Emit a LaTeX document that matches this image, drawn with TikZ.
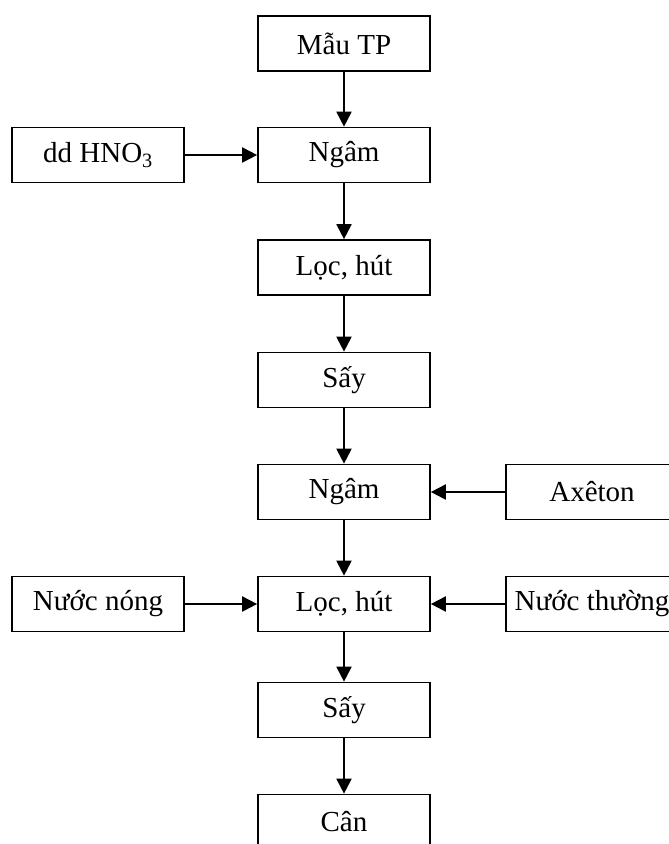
\documentclass[tikz,border=0pt]{standalone}
\usepackage{fontspec}
\setmainfont{Liberation Serif}
\usetikzlibrary{arrows.meta}

\tikzset{
  box/.style={draw, line width=1.7pt, minimum width=172pt, minimum height=55pt,
              inner sep=0pt, font=\fontsize{29}{31}\selectfont},
  flow/.style={-{Triangle[length=15pt, width=15pt]}, line width=2pt}
}

\begin{document}
\begin{tikzpicture}[x=1pt, y=-1pt]
  \useasboundingbox (0,0) rectangle (669,844);
  \clip (0,0) rectangle (669,844);
  % Main column
  \node[box] (mau)   at (344,43.5) {Mẫu TP};
  \node[box] (ngam1) at (344,155)  {Ngâm};
  \node[box] (loc1)  at (344,267.5) {Lọc, hút};
  \node[box] (say1)  at (344,380)  {Sấy};
  \node[box] (ngam2) at (344,492)  {Ngâm};
  \node[box] (loc2)  at (344,604)  {Lọc, hút};
  \node[box] (say2)  at (344,710)  {Sấy};
  \node[box] (can)   at (344,822)  {Cân};
  % Side inputs
  \node[box] (hno)   at (98,155)   {dd HNO\textsubscript{3}};
  \node[box] (nong)  at (98,604)   {Nước nóng};
  \node[box] (axe)   at (592,492)  {Axêton};
  \node[box] (thuong) at (592,604) {Nước thường};
  % Downward flow
  \foreach \a/\b in {mau/ngam1, ngam1/loc1, loc1/say1, say1/ngam2,
                     ngam2/loc2, loc2/say2, say2/can} {
    \draw[flow] (\a.south) -- (\b.north);
  }
  % Inputs from the sides
  \draw[flow] (hno.east) -- (ngam1.west);
  \draw[flow] (nong.east) -- (loc2.west);
  \draw[flow] (axe.west) -- (ngam2.east);
  \draw[flow] (thuong.west) -- (loc2.east);
\end{tikzpicture}
\end{document}
